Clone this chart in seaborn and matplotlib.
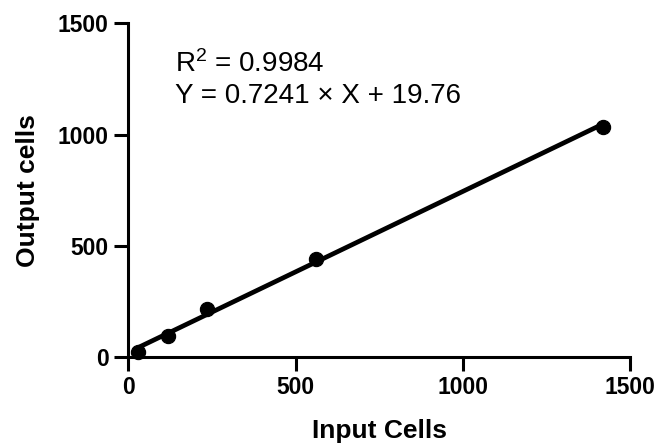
import numpy as np
import pandas as pd
import seaborn as sns
import matplotlib.pyplot as plt

# values
input_cells = [28, 120, 234, 560, 1419]
output_cells = [22, 93, 213, 442, 1036]
slope = 0.7241
intercept = 19.76
r_squared = 0.9984
ticks = [0, 500, 1000, 1500]

sns.set_theme(style='ticks')
plt.rcParams['font.family'] = ['Liberation Sans', 'DejaVu Sans']
plt.rcParams['mathtext.fontset'] = 'custom'
plt.rcParams['mathtext.rm'] = 'Liberation Sans'
plt.rcParams['mathtext.it'] = 'Liberation Sans:italic'
plt.rcParams['mathtext.bf'] = 'Liberation Sans:bold'
plt.rcParams['text.color'] = 'black'
plt.rcParams['axes.labelcolor'] = 'black'
plt.rcParams['xtick.color'] = 'black'
plt.rcParams['ytick.color'] = 'black'

df = pd.DataFrame({'Input Cells': input_cells, 'Output cells': output_cells})
fit_x = np.array([min(input_cells), max(input_cells)])
fit = pd.DataFrame({'x': fit_x, 'y': slope * fit_x + intercept})

fig = plt.figure(figsize=(6.57, 4.43), dpi=100)
ax = fig.add_axes([0.1953, 0.1948, 0.9589 - 0.1953, 0.947 - 0.1948])

sns.lineplot(data=fit, x='x', y='y', color='black', linewidth=3.4, ax=ax)
sns.scatterplot(data=df, x='Input Cells', y='Output cells', color='black',
                edgecolor='black', s=105, zorder=5, clip_on=False, ax=ax)

ax.set_xlim(0, 1500)
ax.set_ylim(0, 1500)
ax.set_xticks(ticks)
ax.set_yticks(ticks)
sns.despine(ax=ax)
for side in ['left', 'bottom']:
    ax.spines[side].set_linewidth(2.2)
    ax.spines[side].set_color('black')
ax.tick_params(length=10, width=2.2, color='black', pad=4, labelsize=16.5)
for lab in ax.get_xticklabels() + ax.get_yticklabels():
    lab.set_fontweight('bold')

ax.set_xlabel('Input Cells', fontsize=19, fontweight='bold', labelpad=14)
ax.set_ylabel('Output cells', fontsize=19, fontweight='bold', labelpad=13)

ax.text(0.094, 0.855, 'R$^2$ = %.4f' % r_squared, transform=ax.transAxes,
        fontsize=20, va='baseline', ha='left')
ax.text(0.094, 0.762, 'Y = %.4f \u00d7 X + %.2f' % (slope, intercept),
        transform=ax.transAxes, fontsize=20, va='baseline', ha='left')

plt.savefig('out.png', dpi=100)
